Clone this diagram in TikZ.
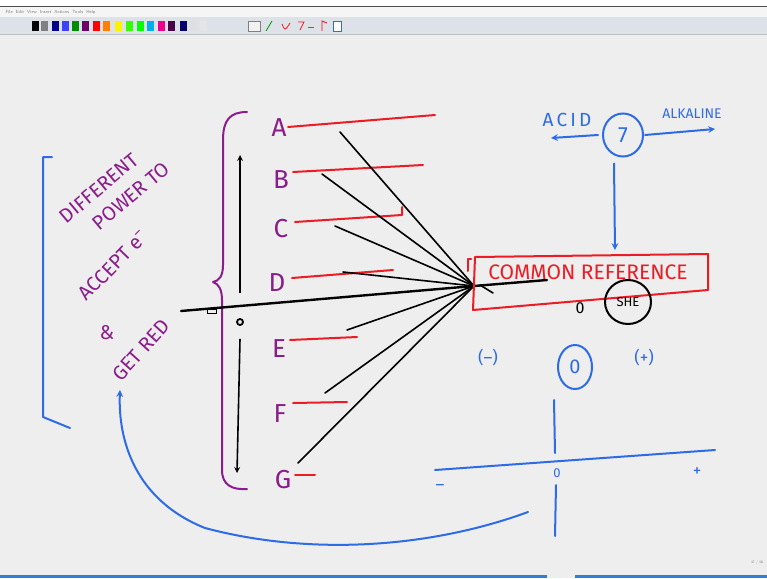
\documentclass[tikz,border=0pt]{standalone}
\usepackage{fontspec}
\newfontfamily\handfont{Fira Sans}
\usetikzlibrary{arrows, positioning, shapes.geometric}
\definecolor{boardbg}{HTML}{EEEEEE}
\definecolor{toolbg}{HTML}{DDE1E8}
\definecolor{penpurple}{HTML}{8A1C8C}
\definecolor{penred}{HTML}{EC1C24}
\definecolor{penblue}{HTML}{2E6BE6}
\definecolor{barblue}{HTML}{2D80D4}
\tikzstyle{pen}        = [line width=2pt, line cap=round, line join=round]
\tikzstyle{redline}    = [pen, color=penred]
\tikzstyle{blueline}   = [pen, color=penblue]
\tikzstyle{purpleline} = [pen, color=penpurple]
\tikzstyle{blackline}  = [line width=1.6pt, line cap=round]
\tikzstyle{arrow}      = [line width=1.6pt, ->, >=stealth]
\tikzstyle{bluearrow}  = [blueline, ->, >=stealth]
\tikzstyle{letter}     = [text=penpurple, font=\handfont\fontsize{26}{26}\selectfont, inner sep=0pt]
\tikzstyle{purpletext} = [text=penpurple, font=\handfont\fontsize{20}{20}\selectfont, inner sep=0pt]
\tikzstyle{bluetext}   = [text=penblue, font=\handfont\fontsize{17}{17}\selectfont, inner sep=0pt]
\tikzstyle{ring}       = [draw, ellipse, line width=2pt, inner sep=0pt]
\tikzstyle{swatch}     = [minimum width=7pt, minimum height=10pt, inner sep=0pt]
\begin{document}
\begin{tikzpicture}[x=1pt,y=-1pt]
\useasboundingbox (0,0) rectangle (767,578);

% board and window frame
\fill[boardbg] (0,0) rectangle (767,578);
\fill[white] (0,0) rectangle (767,6);
\fill[black!70] (0,6) rectangle (767,7);
\fill[gray!8] (0,7) rectangle (767,17);
\fill[toolbg] (0,17) rectangle (767,34);
\draw[gray!50] (0,34) -- (767,34);
\node[anchor=west, text=gray, font=\sffamily\fontsize{4.5}{5}\selectfont] (menu) at (2,12)
  {File\ \ Edit\ \ View\ \ Insert\ \ Actions\ \ Tools\ \ Help};
\foreach \x/\c in {35/black, 44/gray, 55/{blue!55!black}, 65/{blue!75}, 75/{green!55!black},
                   85/{violet!85!black}, 96/red, 106/orange, 118/yellow, 129/{green!80!yellow},
                   140/green, 150/cyan, 161/magenta, 171/{violet!60!black}, 183/{blue!45!black},
                   193/{gray!25}, 203/{gray!20}}
  \node[swatch, fill=\c] (sw\x) at (\x,26) {};
\node[swatch, draw=gray, fill=gray!10, minimum width=12pt] (tool1) at (254,26) {};
\draw[green!60!black, thick] (266,31) -- (272,21);
\draw[penred, thick] (282,24) .. controls (285,31) .. (290,23);
\draw[penred, thick] (298,22) -- (304,22) -- (300,30);
\draw[penblue, thick] (308,27) -- (314,27);
\draw[red, thick] (322,31) -- (322,21) -- (327,23);
\node[swatch, draw=penblue, fill=white, minimum width=8pt] (tool2) at (337,26) {};
\fill[barblue] (0,575) rectangle (547,578);
\fill[barblue] (575,575) rectangle (767,578);
\node[text=gray, font=\sffamily\fontsize{3.5}{4}\selectfont] (page) at (757,563) {37 / 38};

% left bracket and rotated words
\draw[blueline] (52,157) -- (43,157) -- (43,417) -- (70,428);
\node[purpletext, rotate=40] (diff) at (99,188) {DIFFERENT};
\node[purpletext, rotate=40] (power) at (131,196) {POWER TO};
\node[purpletext, rotate=46] (accept) at (113,265) {ACCEPT e\textsuperscript{–}};
\node[purpletext] (amp) at (107,333) {\&};
\node[purpletext, rotate=48] (getred) at (141,350) {GET RED};

% purple brace and letters
\draw[purpleline] (247,112) .. controls (230,112) and (223,120) .. (223,140) -- (223,265)
  .. controls (223,276) and (219,281) .. (213,282) .. controls (219,284) and (222,290) .. (222,300)
  -- (222,470) .. controls (222,485) and (232,490) .. (247,489);
\node[letter] (A) at (279,128) {A};
\node[letter] (B) at (281,180) {B};
\node[letter] (C) at (281,229) {C};
\node[letter] (D) at (277,283) {D};
\node[letter] (E) at (279,349) {E};
\node[letter] (F) at (280,414) {F};
\node[letter] (G) at (283,480) {G};

% red levels
\draw[redline] (288,127) -- (435,115);
\draw[redline] (293,172) -- (423,165);
\draw[redline] (295,222) -- (402,215) -- (402,207);
\draw[redline] (292,278) -- (393,270);
\draw[redline] (290,340) -- (357,337);
\draw[redline] (293,403) -- (347,402);
\draw[redline] (295,475) -- (315,475);

% up and down arrows
\node[draw, circle, line width=1.8pt, minimum size=6pt, inner sep=0pt] (mid) at (240,322) {};
\coordinate (uptip) at (240,155);
\coordinate (downtip) at (237,473);
\draw[arrow] ([yshift=25pt]mid.north) -- (uptip);
\draw[arrow] ([yshift=-13pt]mid.south) -- (downtip);

% lines into the common reference
\coordinate (hub) at (474,286);
\coordinate (la) at (340,132);
\coordinate (lb) at (322,174);
\coordinate (lc) at (335,226);
\coordinate (ld) at (343,272);
\coordinate (le) at (347,330);
\coordinate (lf) at (325,393);
\coordinate (lg) at (298,463);
\coordinate (redend) at (181,311);
\coordinate (inbox) at (547,280);
\foreach \s in {la,lb,lc,ld,le,lf,lg}
  \draw[blackline] (\s) -- (hub);
\draw[blackline, line width=2.4pt] (redend) -- (hub) -- (inbox);
\draw[black, line width=1pt] (207,309) rectangle (216,313);
\draw[blackline] (480,285) -- (493,293);

% common reference box
\draw[redline] (475,257) -- (708,254) -- (708,290) -- (473,310) -- cycle;
\draw[redline] (468,271) -- (468,259) -- (471,259);
\node[text=penred, font=\handfont\fontsize{21}{21}\selectfont, inner sep=0pt] (ref) at (588,272) {COMMON REFERENCE};
\node[font=\handfont\fontsize{16}{16}\selectfont, inner sep=0pt] (zero) at (580,308) {0};
\node[ring, minimum width=46pt, minimum height=44pt, font=\handfont\fontsize{13}{13}\selectfont] (she) at (628,302) {SHE};

% pH scale
\node[ring, draw=penblue, bluetext, font=\handfont\fontsize{22}{22}\selectfont, minimum width=40pt, minimum height=43pt] (seven) at (623,135) {7};
\node[bluetext, font=\handfont\fontsize{19}{19}\selectfont] (acid) at (567,120) {A\,C\,I\,D};
\node[bluetext, font=\handfont\fontsize{14}{14}\selectfont] (alk) at (692,114) {ALKALINE};
\coordinate (acidtip) at (551,138);
\coordinate (alktip) at (715,129);
\coordinate (reftop) at (615,250);
\draw[bluearrow] ([xshift=-4pt]seven.west) -- (acidtip);
\draw[bluearrow] ([xshift=1pt]seven.east) -- (alktip);
\draw[bluearrow] ([xshift=-9pt,yshift=-6pt]seven.south) -- (reftop);

% sign of potential
\node[bluetext] (neg) at (488,358) {(–)};
\node[ring, draw=penblue, bluetext, font=\handfont\fontsize{20}{20}\selectfont, minimum width=34pt, minimum height=44pt] (zeroring) at (575,367) {0};
\node[bluetext] (pos) at (644,358) {(+)};

% axis
\draw[blueline] (435,470) -- (715,450);
\draw[blueline] (554,400) -- (555,453);
\draw[blueline] (556,485) -- (555,536);
\node[bluetext, font=\handfont\fontsize{13}{13}\selectfont] (origin) at (557,473) {0};
\node[bluetext] (minus) at (440,487) {–};
\node[bluetext] (plus) at (697,472) {+};

% back to the words
\coordinate (curvestart) at (528,512);
\coordinate (curveend) at (120,390);
\draw[bluearrow] (curvestart) .. controls (430,548) and (310,556) .. (205,528)
  .. controls (135,500) and (118,440) .. (curveend);

\end{tikzpicture}
\end{document}
